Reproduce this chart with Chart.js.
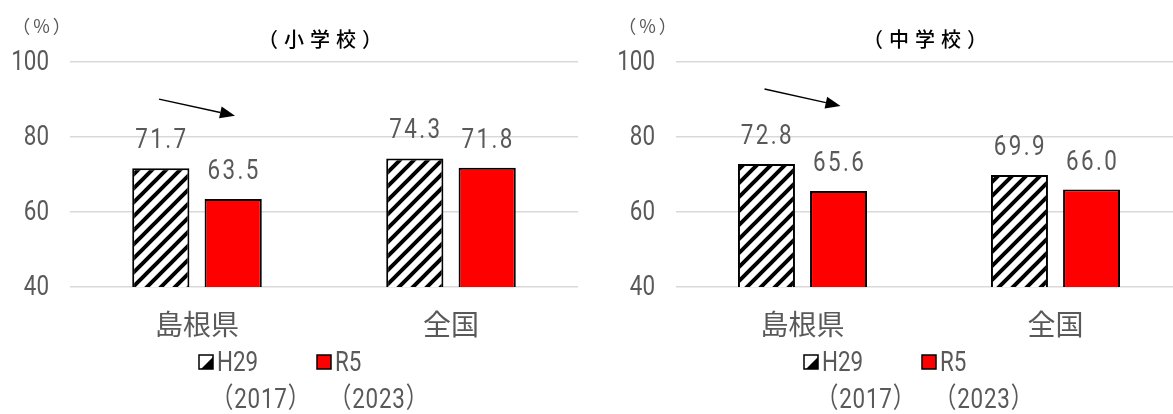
<!DOCTYPE html>
<html>
<head>
<meta charset="utf-8">
<script src="https://cdn.jsdelivr.net/npm/chart.js@4.4.1/dist/chart.umd.min.js"></script>
<style>
html, body { margin: 0; padding: 0; background: #fff; overflow: hidden; width: 1173px; height: 414px; }
#left { position: absolute; left: 0; top: 0; width: 586px; height: 414px; }
#right { position: absolute; left: 586px; top: 0; width: 597px; height: 414px; }
</style>
</head>
<body>
<div id="left"><canvas id="c1"></canvas></div>
<div id="right"><canvas id="c2"></canvas></div>
<script>
var categories = ['島根県', '全国'];
var legendLines = [['H29', '（2017）'], ['R5', '（2023）']];
var unitLabel = '（%）';
var elemTitle = '（小学校）';
var juniorTitle = '（中学校）';

// 小学校
var elemH29 = [71.7, 74.3];
var elemR5 = [63.5, 71.8];
// 中学校
var juniorH29 = [72.8, 69.9];
var juniorR5 = [65.6, 66.0];

var yMin = 40, yMax = 100, yStep = 20;
// arrow over 島根県: value at tail, value at head
var elemArrow = [90.1, 85.7];
var juniorArrow = [92.8, 88.3];

var NUM = 'Roboto, "Noto Sans CJK JP", sans-serif';
var CJK = '"Noto Sans CJK JP", sans-serif';
var GRAY = '#595959';
var SQUEEZE = 0.8;

function stripes() {
	var c = document.createElement('canvas');
	c.width = 14; c.height = 14;
	var x = c.getContext('2d');
	x.fillStyle = '#fff';
	x.fillRect(0, 0, 14, 14);
	x.strokeStyle = '#000';
	x.lineWidth = 4;
	x.beginPath();
	x.moveTo(-7, 7); x.lineTo(7, -7);
	x.moveTo(0, 14); x.lineTo(14, 0);
	x.moveTo(7, 21); x.lineTo(21, 7);
	x.stroke();
	return x.createPattern(c, 'repeat');
}

// narrow text: the reference uses a condensed face
function narrow(ctx, text, x, y) {
	ctx.save();
	ctx.translate(x, y);
	ctx.scale(SQUEEZE, 1);
	ctx.fillText(text, 0, 0);
	ctx.restore();
}

var annot = {
	id: 'annot',
	afterDraw: function(chart, args, o) {
		var ctx = chart.ctx, a = chart.chartArea;
		var xs = chart.scales.x, ys = chart.scales.y;
		var cx = (a.left + a.right) / 2;
		ctx.save();
		ctx.fillStyle = GRAY;

		// y tick labels
		ctx.font = '28px ' + NUM;
		ctx.textAlign = 'right';
		ctx.textBaseline = 'middle';
		ys.ticks.forEach(function(t, i) {
			narrow(ctx, String(t.value), a.left - 21, ys.getPixelForTick(i) + 1);
		});

		// value labels
		ctx.textAlign = 'center';
		ctx.textBaseline = 'alphabetic';
		ctx.letterSpacing = '3px';
		chart.data.datasets.forEach(function(ds, i) {
			chart.getDatasetMeta(i).data.forEach(function(bar, j) {
				narrow(ctx, ds.data[j].toFixed(1), bar.x + 1, bar.y - 20);
			});
		});
		ctx.letterSpacing = '0px';

		// unit
		ctx.font = '18px ' + CJK;
		ctx.textBaseline = 'middle';
		ctx.letterSpacing = '3px';
		ctx.fillText(unitLabel, a.left - 27, 26);

		// title
		ctx.font = '500 20px ' + CJK;
		ctx.fillStyle = '#000';
		ctx.letterSpacing = '6px';
		ctx.fillText(o.title, cx - 1, 39);
		ctx.letterSpacing = '0px';

		// arrow
		var c0 = xs.getPixelForValue(0);
		var x0 = c0 - 38, x1 = c0 + 38;
		var y0 = ys.getPixelForValue(o.arrow[0]), y1 = ys.getPixelForValue(o.arrow[1]);
		var ang = Math.atan2(y1 - y0, x1 - x0);
		var hl = 15, hw = 6;
		ctx.strokeStyle = '#000';
		ctx.lineWidth = 1.5;
		ctx.beginPath();
		ctx.moveTo(x0, y0);
		ctx.lineTo(x1 - hl * Math.cos(ang), y1 - hl * Math.sin(ang));
		ctx.stroke();
		ctx.fillStyle = '#000';
		ctx.beginPath();
		ctx.moveTo(x1, y1);
		ctx.lineTo(x1 - hl * Math.cos(ang) + hw * Math.sin(ang), y1 - hl * Math.sin(ang) - hw * Math.cos(ang));
		ctx.lineTo(x1 - hl * Math.cos(ang) - hw * Math.sin(ang), y1 - hl * Math.sin(ang) + hw * Math.cos(ang));
		ctx.closePath();
		ctx.fill();

		// legend
		for (var k = 0; k < legendLines.length; k++) {
			var bx = cx - 125 + k * 118;
			var by = 355;
			if (k === 0) {
				ctx.fillStyle = '#fff';
				ctx.fillRect(bx, by, 14, 14);
				ctx.fillStyle = '#000';
				ctx.beginPath();
				ctx.moveTo(bx + 14, by + 2);
				ctx.lineTo(bx + 14, by + 14);
				ctx.lineTo(bx + 2, by + 14);
				ctx.closePath();
				ctx.fill();
			} else {
				ctx.fillStyle = '#ff0000';
				ctx.fillRect(bx, by, 14, 14);
			}
			ctx.strokeStyle = '#000';
			ctx.lineWidth = 1.5;
			ctx.strokeRect(bx, by, 14, 14);

			ctx.fillStyle = GRAY;
			ctx.textAlign = 'left';
			ctx.textBaseline = 'middle';
			ctx.font = '28px ' + NUM;
			narrow(ctx, legendLines[k][0], bx + 18, 364);
			ctx.letterSpacing = '1px';
			narrow(ctx, legendLines[k][1], bx + 12, 401);
			ctx.letterSpacing = '0px';
		}
		ctx.restore();
	}
};

function makeChart(id, h29, r5, title, arrow, padLeft, padRight) {
	var pat = stripes();
	return new Chart(document.getElementById(id), {
		type: 'bar',
		data: {
			labels: categories,
			datasets: [
				{ label: legendLines[0][0], data: h29, backgroundColor: pat, borderColor: '#000', borderWidth: 2 },
				{ label: legendLines[1][0], data: r5, backgroundColor: '#ff0000', borderColor: '#000', borderWidth: 2 }
			]
		},
		options: {
			responsive: true,
			maintainAspectRatio: false,
			animation: false,
			barPercentage: 0.79,
			categoryPercentage: 0.57,
			layout: { padding: { left: padLeft, right: padRight, top: 62, bottom: 0 } },
			plugins: {
				legend: { display: false },
				tooltip: { enabled: false },
				annot: { title: title, arrow: arrow }
			},
			scales: {
				x: {
					grid: { display: false, drawTicks: false },
					border: { display: false },
					ticks: { color: GRAY, font: { family: CJK, size: 28 }, padding: 21 },
					afterFit: function(s) { s.height = 127; }
				},
				y: {
					min: yMin, max: yMax,
					grid: { color: '#d9d9d9', lineWidth: 1.5, drawTicks: false },
					border: { display: false },
					ticks: { stepSize: yStep, display: false },
					afterFit: function(s) { s.width = 59; }
				}
			}
		},
		plugins: [annot]
	});
}

makeChart('c1', elemH29, elemR5, elemTitle, elemArrow, 11, 8);
makeChart('c2', juniorH29, juniorR5, juniorTitle, juniorArrow, 31, 1);
</script>
</body>
</html>
